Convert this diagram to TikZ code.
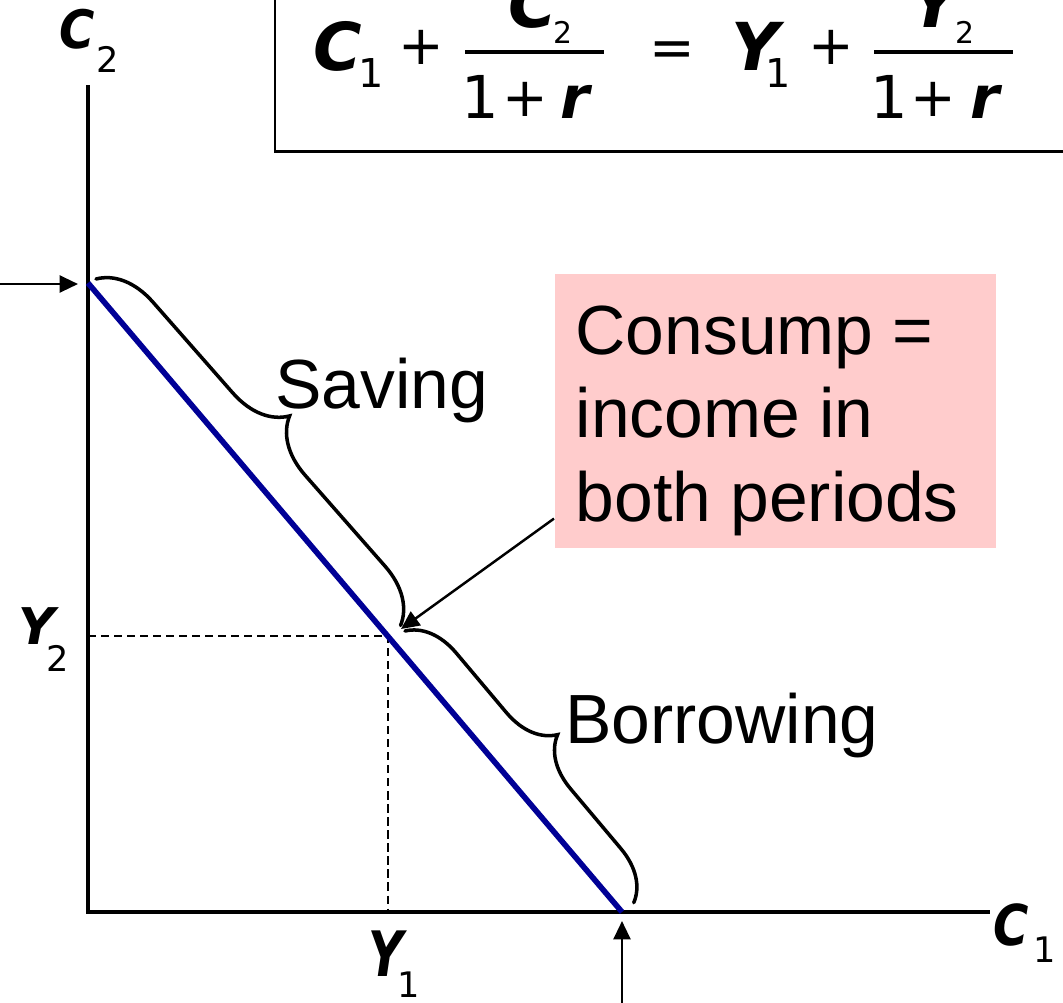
\documentclass[tikz,border=0pt]{standalone}
\usepackage{fontspec}
\usepackage{graphicx}
\setmainfont{Liberation Sans}
\newfontfamily\vf{DejaVu Sans}
\usetikzlibrary{arrows.meta,decorations.pathreplacing,calc}
\definecolor{navyline}{RGB}{0,0,150}
\definecolor{pinkbox}{RGB}{255,204,204}
\begin{document}
\begin{tikzpicture}[x=0.01cm, y=-0.01cm,
  axis/.style={line width=0.9pt, black},
  budget/.style={line width=1.6pt, navyline},
  guide/.style={line width=0.6pt, dash pattern=on 2.3pt off 1.4pt},
  ptr/.style={line width=0.7pt, -{Triangle[length=5.2pt,width=4.8pt]}},
  bracestyle/.style={line width=1pt, line cap=round, decorate, decoration={brace, amplitude=#1}},
  lab/.style={inner sep=0, anchor=base west, font=\fontsize{19.8}{23.76}\selectfont},
  axv/.style={inner sep=0, anchor=base, font=\vf\bfseries\itshape\fontsize{13.7}{15}\selectfont},
  axs/.style={inner sep=0, anchor=base, font=\vf\fontsize{10}{12}\selectfont},
  eqv/.style={inner sep=0, anchor=base, font=\vf\bfseries\itshape\fontsize{18.8}{20}\selectfont},
  eqs/.style={inner sep=0, anchor=base, font=\vf\fontsize{11.3}{12}\selectfont},
  eqns/.style={inner sep=0, anchor=base, font=\vf\fontsize{8.5}{10}\selectfont},
  eqop/.style={inner sep=0, anchor=center, font=\vf\fontsize{15.5}{16}\selectfont},
  den/.style={inner sep=0, anchor=base, font=\vf\fontsize{16.8}{18}\selectfont},
  denv/.style={inner sep=0, anchor=base, font=\vf\bfseries\itshape\fontsize{16.8}{18}\selectfont},
  bar/.style={line width=1pt},
]
\useasboundingbox (0,0) rectangle (1063,1002);
\clip (0,0) rectangle (1063,1002);

% ---- equation box (cut by the picture edge)
\draw[line width=0.85pt] (275,-30) rectangle (1100,151);
\node[eqv] (eqC1) at (337.5,70) {C};
\node[eqs] (eqC1s) at (371,87) {1};
\node[eqop] (eqp1) at (421.5,47) {+};
\coordinate (f1a) at (465,52); \coordinate (f1b) at (604,52);
\draw[bar] (f1a) -- (f1b);
\node[eqv] (eqC2) at (533,27) {C};
\node[eqns] (eqC2s) at (563,43) {2};
\node[den] (d1one) at (480,118) {1};
\node[eqop] (d1plus) at (525.5,99) {+};
\node[denv] (d1r) at (575.5,118) {r};
\node[eqop] (eqeq) at (672,54) {=};
\node[eqv] (eqY1) at (755,70) {Y};
\node[eqs] (eqY1s) at (778,87) {1};
\node[eqop] (eqp2) at (831.5,47) {+};
\coordinate (f2a) at (874,52); \coordinate (f2b) at (1013,52);
\draw[bar] (f2a) -- (f2b);
\node[eqv] (eqY2) at (934,27) {Y};
\node[eqns] (eqY2s) at (965,43) {2};
\node[den] (d2one) at (889.5,118) {1};
\node[eqop] (d2plus) at (933.5,99) {+};
\node[denv] (d2r) at (985,118) {r};

% ---- axes
\coordinate (ytop) at (88,85);
\coordinate (O) at (88,912);
\coordinate (xend) at (990,912);
\draw[axis] (ytop) -- (O) -- (xend);

% axis labels
\node[axv] (labC2) at (77.5,48) {\scalebox{1}[1.1]{C}};
\node[axs] (labC2s) at (108,72) {2};
\node[axv] (labY2) at (37,644) {\scalebox{1.05}[1.05]{Y}};
\node[axs] (labY2s) at (58,671) {2};
\node[axv] (labY1) at (386,976) {\scalebox{1}[1.3]{Y}};
\node[axs] (labY1s) at (409,997) {1};
\node[axv] (labC1) at (1011,945) {\scalebox{1}[1.17]{C}};
\node[axs] (labC1s) at (1045,962) {1};

% ---- guide lines to endowment point
\coordinate (E) at (388,636);
\coordinate (Ey) at (88,636);
\coordinate (Ex) at (388,912);
\draw[guide] (Ey) -- (E) -- (Ex);

% ---- budget line
\coordinate (A) at (88,283);
\coordinate (B) at (622,912);
\draw[budget] (A) -- (B);

% ---- intercept arrows
\coordinate (la) at (0,284);
\coordinate (lb) at (78,284);
\draw[ptr] (la) -- (lb);
\coordinate (ba) at (622,1005);
\coordinate (bb) at (622,921);
\draw[ptr] (ba) -- (bb);

% ---- braces
\coordinate (s1) at (96,279);
\coordinate (meet1) at (401,626);
\coordinate (meet2) at (405,631);
\coordinate (b2) at (634,903);
\draw[bracestyle=0.55cm] (s1) -- (meet1);
\draw[bracestyle=0.5cm] (meet2) -- (b2);
\node[lab] (saving) at (274.5,408) {Saving};
\node[lab] (borrow) at (564.5,743) {Borrowing};

% ---- note box
\node[fill=pinkbox, inner sep=0, minimum width=4.41cm, minimum height=2.74cm, anchor=north west] (note) at (554,273) {};
\node[lab] (note1) at (575,354) {Consump =};
\node[lab] (note2) at (575,437.5) {income in};
\node[lab] (note3) at (575,521) {both periods};
\coordinate (meet) at (401,629);
\draw[ptr] ($(note.south west)+(0,-30)$) -- (meet);
\end{tikzpicture}
\end{document}
